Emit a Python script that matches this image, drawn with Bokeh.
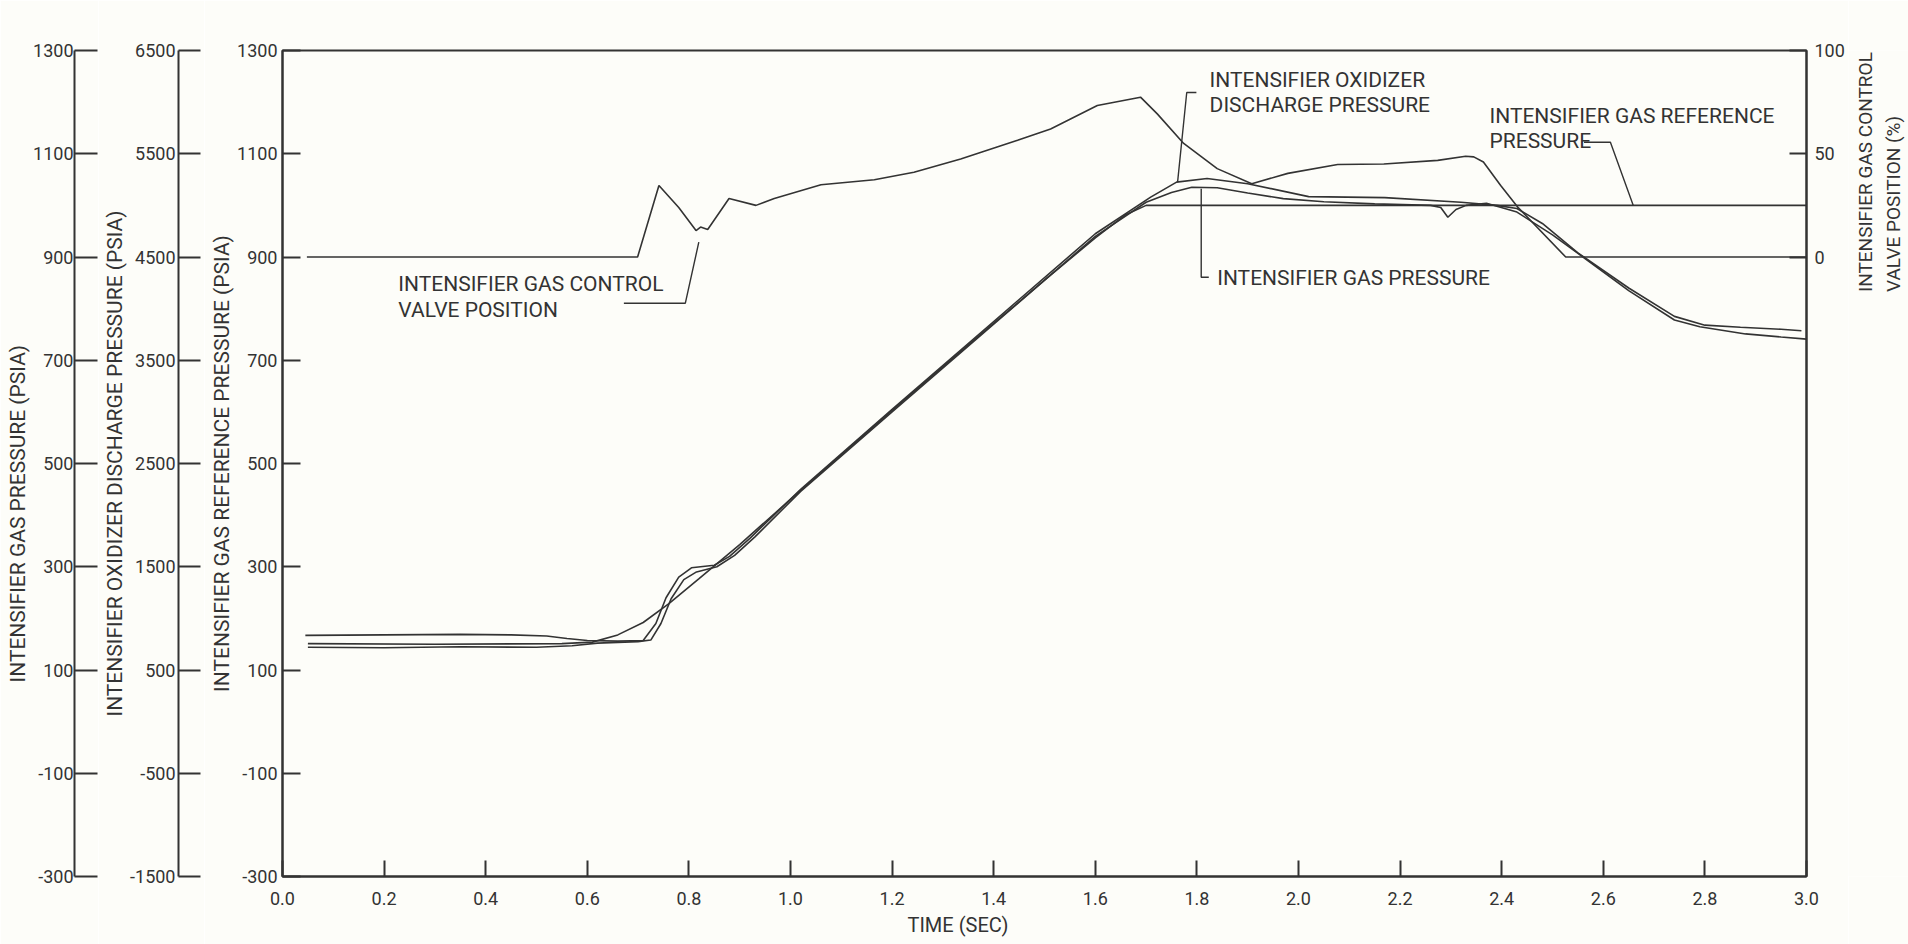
import math
from bokeh.plotting import figure
from bokeh.models import Range1d, LinearAxis, FixedTicker, Label, PrintfTickFormatter, Title
from bokeh.layouts import row
from bokeh.embed import file_html
from bokeh.resources import INLINE

# ---------------- data ----------------
time_ticks = [0.0, 0.2, 0.4, 0.6, 0.8, 1.0, 1.2, 1.4, 1.6, 1.8, 2.0, 2.2, 2.4, 2.6, 2.8, 3.0]
gas_ticks = [-300, -100, 100, 300, 500, 700, 900, 1100, 1300]
oxid_ticks = [-1500, -500, 500, 1500, 2500, 3500, 4500, 5500, 6500]
ref_ticks = [-300, -100, 100, 300, 500, 700, 900, 1100, 1300]
valve_ticks = [0, 50, 100]

# intensifier gas reference pressure (psia)
ref_t = [0.05, 0.30, 0.55, 0.61, 0.66, 0.71, 0.76, 0.82, 0.90, 1.02, 1.20, 1.36, 1.50, 1.60, 1.66, 1.70, 3.00]
ref_p = [151, 150, 151, 154, 168, 192, 228, 277, 343, 448, 603, 738, 855, 937, 982, 1000, 1000]

# intensifier gas pressure (psia)
gas_t = [0.05, 0.20, 0.35, 0.50, 0.57, 0.62, 0.70, 0.725, 0.745, 0.765, 0.79, 0.815, 0.855, 0.89, 0.93,
         1.02, 1.20, 1.40, 1.60, 1.70, 1.75, 1.79, 1.84, 1.90, 1.97, 2.05, 2.15, 2.26, 2.28, 2.294, 2.31,
         2.33, 2.37, 2.43, 2.50, 2.56, 2.65, 2.74, 2.79, 2.88, 2.95, 3.00]
gas_p = [144, 143, 145, 144, 147, 152, 155, 158, 190, 238, 275, 290, 300, 322, 358,
         446, 600, 770, 940, 1006, 1025, 1035, 1034, 1024, 1013, 1007, 1003, 1000, 996, 977, 992,
         1000, 1004, 987, 943, 900, 835, 778, 765, 751, 745, 741]

# intensifier oxidizer discharge pressure (psia)
oxid_t = [0.045, 0.20, 0.35, 0.45, 0.52, 0.56, 0.60, 0.66, 0.71, 0.735, 0.755, 0.78, 0.805, 0.85, 0.88,
          0.92, 1.02, 1.20, 1.40, 1.60, 1.709, 1.76, 1.82, 1.90, 2.02, 2.17, 2.32, 2.39, 2.43, 2.48,
          2.55, 2.65, 2.74, 2.80, 2.87, 2.95, 2.99]
oxid_p = [835, 840, 845, 840, 830, 805, 785, 780, 785, 950, 1200, 1400, 1490, 1515, 1600,
          1775, 2250, 3025, 3875, 4725, 5080, 5225, 5260, 5210, 5085, 5075, 5030, 5000, 4970, 4825,
          4540, 4200, 3925, 3840, 3820, 3800, 3785]

# intensifier gas control valve position (%)
valve_t = [0.048, 0.699, 0.741, 0.78, 0.814, 0.823, 0.837, 0.879, 0.932, 0.968, 1.06, 1.165, 1.243,
           1.335, 1.447, 1.512, 1.604, 1.689, 1.722, 1.774, 1.84, 1.908, 1.979, 2.077, 2.168, 2.274,
           2.329, 2.345, 2.364, 2.398, 2.431, 2.526, 3.0]
valve_pct = [0, 0, 34.6, 24, 12.8, 14.5, 13.3, 28.3, 25, 28.3, 35, 37.4, 41,
             47.5, 56.5, 62, 73.4, 77.4, 69.3, 55, 42.8, 35.5, 40.5, 44.8, 45, 46.8,
             48.8, 48.5, 46, 34.6, 24.3, 0, 0]

# ---------------- styling ----------------
FONT = "Roboto"
INK = "#333333"
BG = "#fdfdf9"
H = 944
TOP, BOTTOM = 50, 68
TICK_FS = "18px"
TITLE_FS = "21px"


def style_axis(ax, ticks, tick_in, standoff):
    ax.ticker = FixedTicker(ticks=ticks, minor_ticks=[])
    ax.major_tick_in = tick_in
    ax.major_tick_out = 0
    ax.minor_tick_in = 0
    ax.minor_tick_out = 0
    ax.axis_line_width = 2
    ax.axis_line_color = INK
    ax.major_tick_line_width = 2
    ax.major_tick_line_color = INK
    ax.major_label_text_font = FONT
    ax.major_label_text_font_size = TICK_FS
    ax.major_label_text_color = INK
    ax.major_label_standoff = standoff
    ax.axis_label_text_font = FONT
    ax.axis_label_text_font_size = TITLE_FS
    ax.axis_label_text_font_style = "normal"
    ax.axis_label_text_color = INK


def base(width, xr, yr, bl, br, bt=TOP, bb=BOTTOM, **kw):
    f = figure(width=width, height=H, x_range=xr, y_range=yr, toolbar_location=None,
               output_backend="svg", min_border_left=bl, min_border_right=br,
               min_border_top=bt, min_border_bottom=bb,
               background_fill_color=BG, border_fill_color=BG, **kw)
    f.grid.visible = False
    f.outline_line_color = None
    return f


def note(fig, x, y, text, align="left", angle=0.0, size=TITLE_FS):
    fig.add_layout(Label(x=x, y=y, text=text, angle=angle, text_align=align,
                         text_baseline="middle", text_font=FONT, text_font_size=size,
                         text_color=INK))


# --- axis 1: intensifier gas pressure (title placed lower than centre, as drawn) ---
f1 = base(98, Range1d(0, 1), Range1d(-300, 1300), 74, 0, x_axis_location=None)
style_axis(f1.yaxis[0], gas_ticks, 23, 1)
f1.yaxis[0].formatter = PrintfTickFormatter(format="%d")
f1.add_layout(Title(text="INTENSIFIER GAS PRESSURE (PSIA)", align="left", offset=194,
                    standoff=0, vertical_align="middle", text_font=FONT,
                    text_font_size=TITLE_FS, text_font_style="normal", text_color=INK), "left")

# --- axis 2: intensifier oxidizer discharge pressure ---
f2 = base(106, Range1d(0, 1), Range1d(-1500, 6500), 80, 0, x_axis_location=None)
style_axis(f2.yaxis[0], oxid_ticks, 22, 3)
f2.yaxis[0].formatter = PrintfTickFormatter(format="%d")
f2.yaxis[0].axis_label = "INTENSIFIER OXIDIZER DISCHARGE PRESSURE (PSIA)"
f2.yaxis[0].axis_label_standoff = 0

# --- main plot ---
p = base(1644, Range1d(0, 3.0), Range1d(-300, 1300), 78, 42)
p.outline_line_color = INK
p.outline_line_width = 2
p.extra_y_ranges = {"gas": Range1d(-300, 1300), "oxid": Range1d(-1500, 6500),
                    "valve": Range1d(-300, 100)}

style_axis(p.yaxis[0], ref_ticks, 18, 5)
p.yaxis[0].formatter = PrintfTickFormatter(format="%d")
p.yaxis[0].axis_label = "INTENSIFIER GAS REFERENCE PRESSURE (PSIA)"
p.yaxis[0].axis_label_standoff = 0

style_axis(p.xaxis[0], time_ticks, 16, 15)
p.xaxis[0].formatter = PrintfTickFormatter(format="%.1f")

vax = LinearAxis(y_range_name="valve")
style_axis(vax, valve_ticks, 17, 8)
p.add_layout(vax, "right")

p.add_layout(Title(text="TIME (SEC)", align="left", offset=625, standoff=8,
                   vertical_align="middle", text_font=FONT, text_font_size="20px",
                   text_font_style="normal", text_color=INK), "below")

LW = 1.6
p.line(ref_t, ref_p, line_width=LW, line_color=INK)
p.line(gas_t, gas_p, line_width=LW, line_color=INK, y_range_name="gas")
p.line(oxid_t, oxid_p, line_width=LW, line_color=INK, y_range_name="oxid")
p.line(valve_t, valve_pct, line_width=LW, line_color=INK, y_range_name="valve")

# leader lines for the curve labels
p.line([0.672, 0.793, 0.8195], [810.5, 810.5, 928.7], line_width=1.4, line_color=INK)
p.line([1.799, 1.780, 1.762], [1218.6, 1218.6, 1044.9], line_width=1.4, line_color=INK)
p.line([1.8085, 1.8085, 1.8234], [1032.1, 860.9, 860.9], line_width=1.4, line_color=INK)
p.line([2.562, 2.614, 2.659], [1122.4, 1122.4, 999.8], line_width=1.4, line_color=INK)

note(p, 0.228, 848, "INTENSIFIER GAS CONTROL")
note(p, 0.228, 798, "VALVE POSITION")
note(p, 1.825, 1243.8, "INTENSIFIER OXIDIZER")
note(p, 1.825, 1194.2, "DISCHARGE PRESSURE")
note(p, 1.840, 858.4, "INTENSIFIER GAS PRESSURE")
note(p, 2.376, 1173, "INTENSIFIER GAS REFERENCE")
note(p, 2.376, 1124.7, "PRESSURE")

# --- strip holding the title of the right axis (pixel-like ranges) ---
f4 = base(60, Range1d(1848, 1908), Range1d(H, 0), 0, 0, 0, 0,
          x_axis_location=None, y_axis_location=None)
note(f4, 1864.5, 276, "INTENSIFIER GAS CONTROL", angle=math.pi / 2, size="19px")
note(f4, 1892.5, 276, "VALVE POSITION (%)", angle=math.pi / 2, size="19px")

layout = row(f1, f2, p, f4)
open("out.html", "w").write(file_html(layout, INLINE))
